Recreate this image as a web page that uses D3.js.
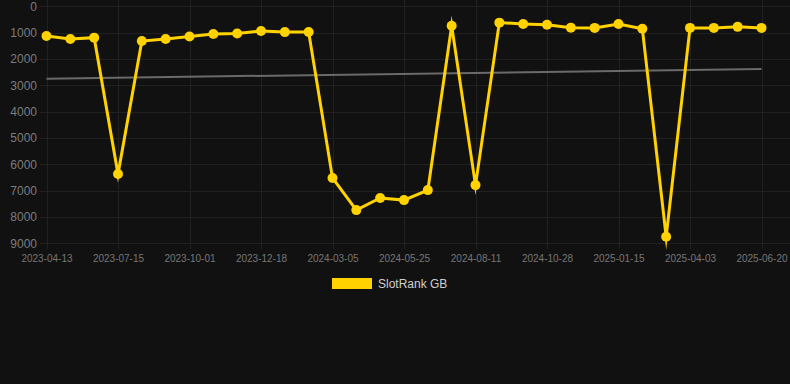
<!DOCTYPE html>
<html>
<head>
<meta charset="utf-8">
<script src="https://cdn.jsdelivr.net/npm/d3@7"></script>
<style>
  html, body { margin: 0; padding: 0; background: #111111; }
  svg { display: block; font-family: "Liberation Sans", Arial, sans-serif; }
  .y-axis text { fill: #7c7c7c; font-size: 12px; }
  .x-axis text { fill: #767676; font-size: 10px; }
  .grid line { stroke: #212121; stroke-width: 1; }
</style>
</head>
<body>
<div id="chart"></div>
<script>
// Observation dates (category axis, labelled every third point)
var dates = [
  '2023-04-13', '2023-05-14', '2023-06-14', '2023-07-15', '2023-08-10', '2023-09-05',
  '2023-10-01', '2023-10-27', '2023-11-22', '2023-12-18', '2024-01-13', '2024-02-08',
  '2024-03-05', '2024-04-01', '2024-04-28', '2024-05-25', '2024-06-20', '2024-07-16',
  '2024-08-11', '2024-09-06', '2024-10-02', '2024-10-28', '2024-11-23', '2024-12-20',
  '2025-01-15', '2025-02-10', '2025-03-08', '2025-04-03', '2025-04-29', '2025-05-25',
  '2025-06-20'
];
var rank_gb = [
  1130, 1240, 1190, 6370, 1320, 1240,
  1150, 1050, 1030, 940, 980, 975,
  6520, 7740, 7280, 7360, 6980, 740,
  6790, 620, 670, 700, 810, 820,
  670, 850, 8750, 820, 820, 780,
  820
];
var trend_ends = [2750, 2380]; // trend line at first and last date
var y_ticks = [0, 1000, 2000, 3000, 4000, 5000, 6000, 7000, 8000, 9000];
var series_name = 'SlotRank GB';

var svg_width = 790,
	svg_height = 384;

var svg = d3.select('#chart').append('svg')
	.attr('width', svg_width)
	.attr('height', svg_height);

// Scales
var xScale = d3.scalePoint().domain(dates).range([46.5, 761.5]);
var yScale = d3.scaleLinear().domain([0, 9000]).range([6.3, 243.3]);

// Horizontal grid
svg.append('g')
	.attr('class', 'grid')
	.selectAll('line')
	.data(y_ticks)
	.enter()
	.append('line')
	.attr('x1', 40)
	.attr('x2', svg_width)
	.attr('y1', function(d) { return Math.round(yScale(d)) + 0.5; })
	.attr('y2', function(d) { return Math.round(yScale(d)) + 0.5; });

// Vertical grid at labelled dates
var label_dates = dates.filter(function(d, i) { return i % 3 == 0; });
svg.append('g')
	.attr('class', 'grid')
	.selectAll('line')
	.data(label_dates)
	.enter()
	.append('line')
	.attr('x1', function(d) { return Math.round(xScale(d)) + 0.5; })
	.attr('x2', function(d) { return Math.round(xScale(d)) + 0.5; })
	.attr('y1', 0)
	.attr('y2', 249);

// Y-axis labels
var yAxis = d3.axisLeft(yScale).tickValues(y_ticks).tickFormat(d3.format('d')).tickSize(0).tickPadding(0);
svg.append('g')
	.attr('class', 'y-axis')
	.attr('transform', 'translate(37,0)')
	.call(yAxis)
	.call(function(g) { g.select('.domain').remove(); });

// X-axis labels
var xAxis = d3.axisBottom(xScale).tickValues(label_dates).tickSize(0).tickPadding(0);
svg.append('g')
	.attr('class', 'x-axis')
	.attr('transform', 'translate(0,255)')
	.call(xAxis)
	.call(function(g) { g.select('.domain').remove(); });

// Trend line
svg.append('line')
	.attr('x1', xScale(dates[0]))
	.attr('x2', xScale(dates[dates.length - 1]))
	.attr('y1', yScale(trend_ends[0]))
	.attr('y2', yScale(trend_ends[1]))
	.style('stroke', '#6a6a6a')
	.style('stroke-width', 2);

// Rank line
var line = d3.line()
	.x(function(d, i) { return xScale(dates[i]); })
	.y(function(d) { return yScale(d); });

svg.append('path')
	.datum(rank_gb)
	.attr('d', line)
	.style('fill', 'none')
	.style('stroke', '#ffd200')
	.style('stroke-width', 3)
	.style('stroke-linejoin', 'miter')
	.style('stroke-miterlimit', 10);

svg.selectAll('.plot-dot')
	.data(rank_gb)
	.enter()
	.append('circle')
	.attr('class', 'plot-dot')
	.attr('r', 5)
	.attr('cx', function(d, i) { return xScale(dates[i]); })
	.attr('cy', function(d) { return yScale(d); })
	.style('fill', '#ffd200');

// Legend
var legend = svg.append('g').attr('transform', 'translate(332,278)');
legend.append('rect')
	.attr('width', 40)
	.attr('height', 11)
	.style('fill', '#ffd200');
legend.append('text')
	.attr('x', 46)
	.attr('y', 10)
	.style('fill', '#cfcfcf')
	.style('font-size', '12px')
	.text(series_name);
</script>
</body>
</html>
